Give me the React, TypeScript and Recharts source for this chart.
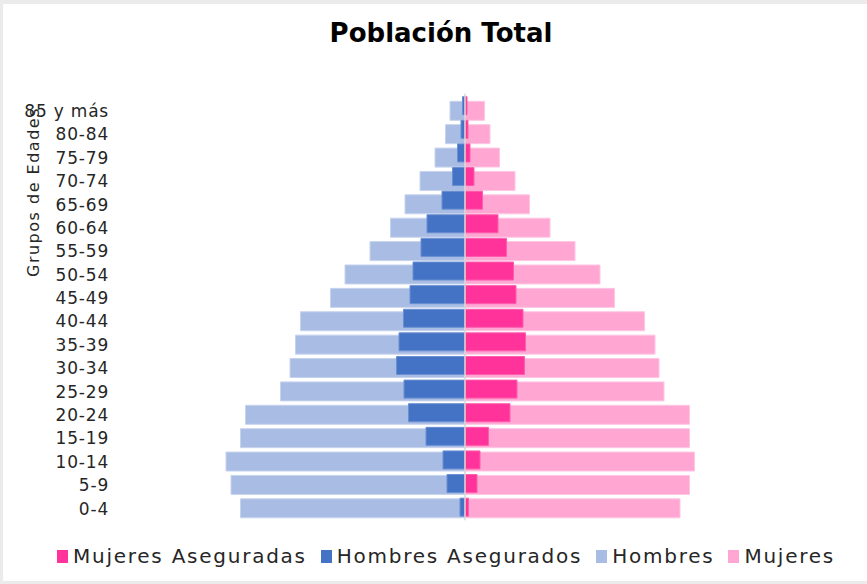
import { BarChart, Bar, XAxis, YAxis, ReferenceLine } from 'recharts';

// age groups, top row first
const ageGroups = [
  '85 y más', '80-84', '75-79', '70-74', '65-69', '60-64', '55-59', '50-54', '45-49',
  '40-44', '35-39', '30-34', '25-29', '20-24', '15-19', '10-14', '5-9', '0-4',
];

const hombres = [15, 19.5, 30, 45, 60, 74.5, 95, 120, 134.5, 164.5, 169.5, 175, 184.5, 219.5, 224.5, 239, 234, 224.5];
const hombresAsegurados = [2.5, 4, 7.5, 12.5, 23, 38, 44, 52, 55, 61.5, 66, 68.5, 61, 56.5, 39, 22, 18, 5];
const mujeres = [19.5, 25, 34.5, 50, 64.5, 85, 110, 135, 149.5, 179.5, 190, 194, 199, 224.5, 224.5, 229.5, 224.5, 215];
const mujeresAseguradas = [2, 3, 5, 9, 17.5, 33, 41.5, 48.5, 51, 58, 60.5, 59.5, 52, 45, 23.5, 15, 12, 3.5];

const legendItems = [
  { name: 'Mujeres Aseguradas', color: '#FF3399' },
  { name: 'Hombres Asegurados', color: '#4472C4' },
  { name: 'Hombres', color: '#A9BCE3' },
  { name: 'Mujeres', color: '#FFA6D2' },
];

const font = '"DejaVu Sans", sans-serif';
const textColor = '#262626';

export default function App() {
  const data = ageGroups.map((group, i) => ({
    group,
    hombres: -hombres[i],
    hombresAsegurados: -hombresAsegurados[i],
    mujeres: mujeres[i],
    mujeresAseguradas: mujeresAseguradas[i],
  }));

  return (
    <div style={{ position: 'absolute', left: 0, top: 0, width: 867, height: 584, background: '#ebebeb', fontFamily: font }}>
      <div style={{ position: 'absolute', left: 3, top: 4, width: 864, height: 577, background: '#fff' }} />
      <div
        style={{
          position: 'absolute', left: 0, top: 18, width: 882, textAlign: 'center',
          fontSize: 26, fontWeight: 'bold', color: '#000',
        }}
      >
        Población Total
      </div>
      <div
        style={{
          position: 'absolute', left: 33, top: 192, transform: 'translate(-50%, -50%) rotate(-90deg)',
          fontSize: 16, letterSpacing: 1.5, color: textColor, whiteSpace: 'nowrap',
        }}
      >
        Grupos de Edades
      </div>
      <div style={{ position: 'absolute', left: 0, top: 0 }}>
        <BarChart
          width={867}
          height={584}
          data={data}
          layout="vertical"
          stackOffset="sign"
          margin={{ top: 93.7, right: 52, bottom: 63.8, left: 15 }}
        >
          <XAxis type="number" hide domain={[-350, 350]} />
          <YAxis
            yAxisId="l"
            type="category"
            dataKey="group"
            width={100}
            axisLine={false}
            tickLine={false}
            tickMargin={0}
            interval={0}
            padding={{ top: 5.6, bottom: 0 }}
            tick={{ fontSize: 17, fill: textColor, fontFamily: font, letterSpacing: 0.8 }}
          />
          <YAxis yAxisId="d" type="category" dataKey="group" hide width={0} padding={{ top: 0, bottom: 1.4 }} />
          <ReferenceLine x={0} yAxisId="l" stroke="#d6d6d6" strokeWidth={1.5} />
          <Bar yAxisId="l" dataKey="hombres" stackId="l" fill="#A9BCE3" stroke="#c6d3ee" barSize={19} isAnimationActive={false} />
          <Bar yAxisId="l" dataKey="mujeres" stackId="l" fill="#FFA6D2" stroke="#ffc6e3" barSize={19} isAnimationActive={false} />
          <Bar yAxisId="d" dataKey="hombresAsegurados" stackId="d" fill="#4472C4" stroke="#6a8fd2" barSize={18} isAnimationActive={false} />
          <Bar yAxisId="d" dataKey="mujeresAseguradas" stackId="d" fill="#FF3399" stroke="#ff5cad" barSize={18} isAnimationActive={false} />
        </BarChart>
      </div>
      <div
        style={{
          position: 'absolute', left: 0, top: 544, width: 892, display: 'flex', justifyContent: 'center',
          gap: 14, fontSize: 20, letterSpacing: 1.75, color: textColor,
        }}
      >
        {legendItems.map((item) => (
          <div key={item.name} style={{ display: 'flex', alignItems: 'center', gap: 5 }}>
            <span style={{ display: 'inline-block', width: 11, height: 13, background: item.color }} />
            <span>{item.name}</span>
          </div>
        ))}
      </div>
    </div>
  );
}
